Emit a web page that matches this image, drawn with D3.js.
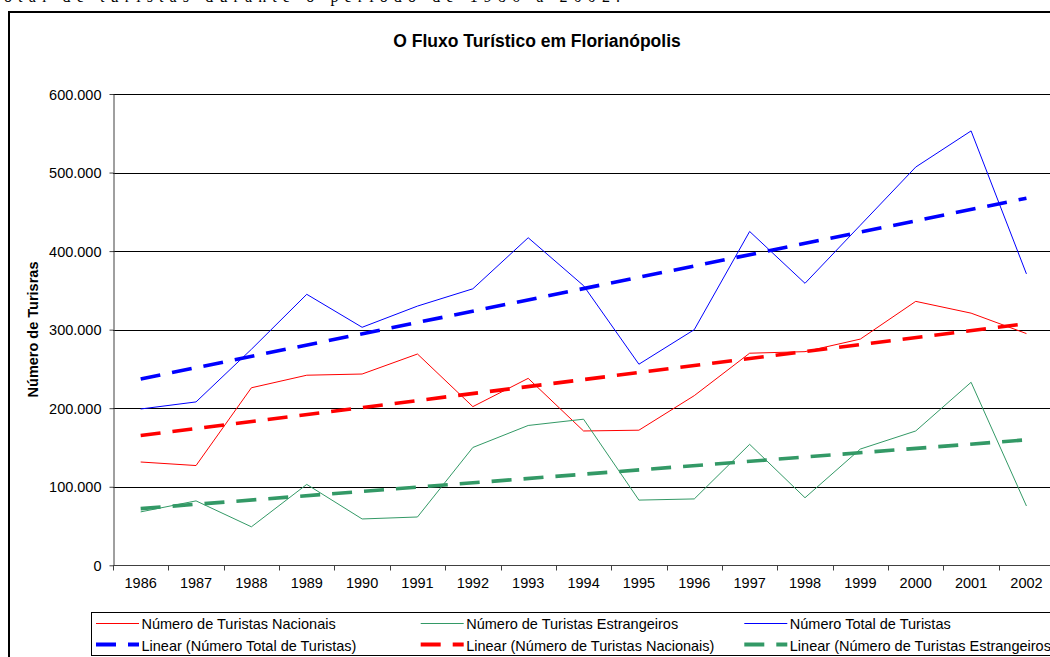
<!DOCTYPE html>
<html lang="pt">
<head>
    <meta charset="UTF-8">
    <title>O Fluxo Turístico em Florianópolis</title>
    <script src="https://d3js.org/d3.v7.min.js"></script>
    <style>
        body{ margin:0; background:#fff; }
        svg{ display:block; font-family:"Liberation Sans", Arial, sans-serif; }
    </style>
</head>
<body>
<svg id="main" width="1050" height="657"></svg>

<script>
    // dados
    let anos = ["1986","1987","1988","1989","1990","1991","1992","1993","1994",
        "1995","1996","1997","1998","1999","2000","2001","2002"]
    let nacionais = [131500,127000,226000,242000,243500,269000,202000,238000,171000,
        172000,216000,270000,272000,288000,336000,321000,295000]
    let estrangeiros = [68000,82000,49000,103000,59000,61500,150000,178000,186000,
        83000,84500,154000,86000,148000,171000,233000,75500]
    let total = [199000,208000,275000,345000,303000,330000,352000,417000,356000,
        256000,300000,425000,359000,433000,507000,553000,371000]
    let yTicks = [0,100000,200000,300000,400000,500000,600000]

    let svg = d3.select("#main")

    // texto do documento cortado no topo
    svg.append("text")
        .attr("x",4).attr("y",2)
        .attr("textLength",616).attr("lengthAdjust","spacing")
        .style("font-family",'"Liberation Serif", "Times New Roman", serif')
        .style("font-size","16px")
        .text("otal de turistas durante o período de 1986 a 2002.")

    // moldura do grafico
    svg.append("rect")
        .attr("x",9).attr("y",12)
        .attr("width",1056).attr("height",700)
        .attr("fill","#fff").attr("stroke","#000").attr("stroke-width",2)

    let x = d3.scaleBand().domain(anos).range([113,113+17*55.36]).padding(0)
    let y = d3.scaleLinear().domain([0,600000]).range([565.3,94])
    let cx = d => x(d) + x.bandwidth()/2

    let fmt = d3.formatLocale({decimal:",",thousands:".",grouping:[3],currency:["",""]}).format(",")

    // titulo
    svg.append("text")
        .attr("x",537).attr("y",47)
        .attr("text-anchor","middle")
        .style("font-weight","bold").style("font-size","17.5px")
        .text("O Fluxo Turístico em Florianópolis")

    // linhas de grade
    svg.append("g").selectAll("line").data(yTicks.slice(1)).join("line")
        .attr("x1",113).attr("x2",1060)
        .attr("y1",d=>Math.round(y(d))+0.5).attr("y2",d=>Math.round(y(d))+0.5)
        .attr("stroke","#000").attr("stroke-width",1)

    // eixo y
    let yAxis = svg.append("g")
        .attr("transform","translate(113.5,0)")
        .call(d3.axisLeft(y).tickValues(yTicks).tickFormat(fmt).tickSize(4).tickSizeOuter(0))
    yAxis.select(".domain").attr("stroke","#404040")
    yAxis.selectAll(".tick line").attr("stroke","#404040")
    yAxis.selectAll(".tick text")
        .attr("x",-12).attr("dy","0.36em")
        .style("font-size","14.5px").style("font-family",'"Liberation Sans", Arial, sans-serif')
        .attr("fill","#000")

    // eixo x
    let xAxis = svg.append("g")
        .attr("transform","translate(0,"+(Math.round(y(0))+0.5)+")")
        .call(d3.axisBottom(x).tickSize(0).tickSizeOuter(0))
    xAxis.select(".domain").attr("stroke","#404040").attr("d","M113,0H1060")
    xAxis.selectAll(".tick text")
        .attr("y",22).attr("dy",0)
        .style("font-size","14.5px").style("font-family",'"Liberation Sans", Arial, sans-serif')
        .attr("fill","#000")
    // marcas entre categorias
    xAxis.append("g").selectAll("line").data(anos.concat(["fim"])).join("line")
        .attr("x1",(d,i)=>Math.round(113+i*x.bandwidth())+0.5)
        .attr("x2",(d,i)=>Math.round(113+i*x.bandwidth())+0.5)
        .attr("y1",0).attr("y2",5)
        .attr("stroke","#404040")

    svg.append("text")
        .attr("transform","translate(37.5,329.5) rotate(-90)")
        .attr("text-anchor","middle")
        .style("font-weight","bold").style("font-size","14.5px")
        .text("Número de Turisras")

    // tendencia linear (minimos quadrados)
    function tendencia(vals){
        let n = vals.length
        let mx = d3.mean(vals,(v,i)=>i), my = d3.mean(vals)
        let sxy = d3.sum(vals,(v,i)=>(i-mx)*(v-my))
        let sxx = d3.sum(vals,(v,i)=>(i-mx)*(i-mx))
        let b = sxy/sxx, a = my - b*mx
        return [[0,a],[n-1,a+b*(n-1)]]
    }

    let series = [
        {nome:"Número de Turistas Nacionais", vals:nacionais, cor:"#ff0000"},
        {nome:"Número de Turistas Estrangeiros", vals:estrangeiros, cor:"#339966"},
        {nome:"Número Total de Turistas", vals:total, cor:"#0000ff"}
    ]
    let tendencias = [
        {nome:"Linear (Número Total de Turistas)", vals:total, cor:"#0000ff"},
        {nome:"Linear (Número de Turistas Nacionais)", vals:nacionais, cor:"#ff0000"},
        {nome:"Linear (Número de Turistas Estrangeiros)", vals:estrangeiros, cor:"#339966"}
    ]

    let linha = d3.line().x((v,i)=>cx(anos[i])).y(v=>y(v))
    svg.append("g").selectAll("path").data(series).join("path")
        .attr("d",d=>linha(d.vals))
        .attr("fill","none").attr("stroke",d=>d.cor).attr("stroke-width",1)

    let linhaT = d3.line().x(p=>cx(anos[p[0]])).y(p=>y(p[1]))
    svg.append("g").selectAll("path").data(tendencias).join("path")
        .attr("d",d=>linhaT(tendencia(d.vals)))
        .attr("fill","none").attr("stroke",d=>d.cor)
        .attr("stroke-width",3.6).attr("stroke-dasharray","20,12")

    // legenda
    let leg = svg.append("g")
    leg.append("rect")
        .attr("x",91.5).attr("y",612.5).attr("width",1000).attr("height",43)
        .attr("fill","#fff").attr("stroke","#000").attr("stroke-width",1)
    let colX = [96,420.7,744.3]
    let itens = series.map((d,i)=>({d:d,col:i,row:0,dash:false}))
        .concat(tendencias.map((d,i)=>({d:d,col:i,row:1,dash:true})))
    let item = leg.selectAll("g.item").data(itens).join("g")
        .attr("class","item")
        .attr("transform",e=>"translate("+colX[e.col]+","+(e.row===0?623.5:644.5)+")")
    item.append("line")
        .attr("x1",0).attr("x2",43).attr("y1",0).attr("y2",0)
        .attr("stroke",e=>e.d.cor)
        .attr("stroke-width",e=>e.dash?4:1.2)
        .attr("stroke-dasharray",e=>e.dash?"20,12":null)
    item.append("text")
        .attr("x",45.5).attr("y",e=>e.row===0?5.5:6.5)
        .style("font-size","14.5px")
        .text(e=>e.d.nome)
</script>
</body>
</html>
